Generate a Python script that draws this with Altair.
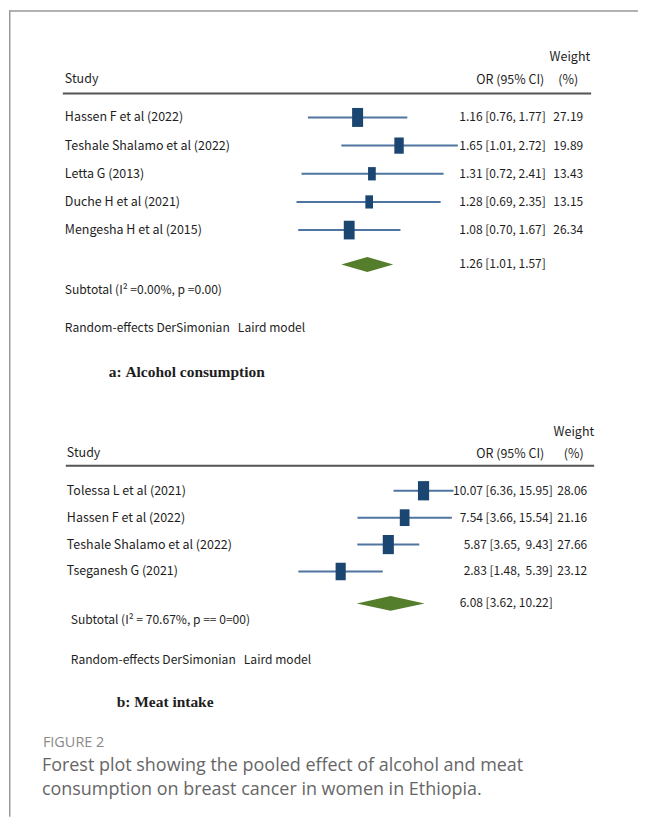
import altair as alt
import pandas as pd

# ---------------- data ----------------
alc_studies = ["Hassen F et al (2022)", "Teshale Shalamo et al (2022)", "Letta G (2013)",
               "Duche H et al (2021)", "Mengesha H et al (2015)"]
alc_or = [1.16, 1.65, 1.31, 1.28, 1.08]
alc_lo = [0.76, 1.01, 0.72, 0.69, 0.70]
alc_hi = [1.77, 2.72, 2.41, 2.35, 1.67]
alc_weight = [27.19, 19.89, 13.43, 13.15, 26.34]
alc_pooled = [1.26, 1.01, 1.57]
alc_subtotal = "Subtotal (I² =0.00%, p =0.00)"
alc_title = "a: Alcohol consumption"

meat_studies = ["Tolessa L et al (2021)", "Hassen F et al (2022)",
                "Teshale Shalamo et al (2022)", "Tseganesh G (2021)"]
meat_or = [10.07, 7.54, 5.87, 2.83]
meat_lo = [6.36, 3.66, 3.65, 1.48]
meat_hi = [15.95, 15.54, 9.43, 5.39]
meat_weight = [28.06, 21.16, 27.66, 23.12]
meat_pooled = [6.08, 3.62, 10.22]
meat_subtotal = "Subtotal (I² = 70.67%, p == 0=00)"
meat_title = "b: Meat intake"

model_note = "Random-effects DerSimonian   Laird model"
head_study = "Study"
head_or = "OR (95% CI)"
head_weight = ["Weight", "(%)"]
caption_label = "FIGURE 2"
caption_lines = ["Forest plot showing the pooled effect of alcohol and meat",
                 "consumption on breast cancer in women in Ethiopia."]

# ---------------- style ----------------
W = 631
NARROW = "Noto Sans CJK SC, Liberation Sans, sans-serif"
SERIF = "Liberation Serif, Times New Roman, serif"
CAPF = "Open Sans, sans-serif"
FS = 12.5      # study labels / headers
FS_NOTE = 12.1 # subtotal / model note
FS_NUM = 12    # numeric columns
TXT = "#1e1e1e"
LINE = "#4f74a0"
SQ = "#1b4672"
GREEN = "#547d2c"
FRAME = "#9a9a9a"
BOX = "M-0.58,-1H0.58V1H-0.58Z"


def nb(s):
    return s.replace(" ", "\u00a0")


def ci_text(e, l, h, wd):
    return nb(f"{e:.2f} [{l:.2f}, {h:{wd}.2f}]")


def label(text, x, y, align="left", font=NARROW, size=FS, weight="normal", color=TXT):
    return alt.Chart(pd.DataFrame({"t": [nb(text)]})).mark_text(
        align=align, baseline="middle", font=font, fontSize=size,
        fontWeight=weight, color=color
    ).encode(x=alt.value(x), y=alt.value(y), text="t:N")


def frame_left(h):
    return alt.Chart(pd.DataFrame({"t": [0]})).mark_rule(
        color=FRAME, strokeWidth=1.5
    ).encode(x=alt.value(0.75), y=alt.value(0), y2=alt.value(h))


def panel(studies, est, lo, hi, wt, pooled, subtotal, title, g):
    n = len(studies)
    wd = max(len(f"{v:.2f}") for v in hi + [pooled[2]])
    rows = pd.DataFrame({
        "study": [nb(s) for s in studies], "est": est, "lo": lo, "hi": hi,
        "weight": wt, "row": list(range(n)),
        "ci": [ci_text(e, l, h, wd) for e, l, h in zip(est, lo, hi)],
        "wtxt": [f"{v:.2f}" for v in wt],
    })
    prow = n - 1 + g["pool_gap"]
    pool = pd.DataFrame({"ci": [ci_text(pooled[0], pooled[1], pooled[2], wd)], "row": [prow]})
    dh = g["dh"] / g["step"]
    dia = pd.DataFrame({"x": [pooled[1], pooled[0], pooled[2]],
                        "y": [prow, prow - dh, prow],
                        "y2": [prow, prow + dh, prow]})

    xs = alt.Scale(type="log", domain=[1, 10], range=[g["x1"], g["x10"]], nice=False)
    ys = alt.Scale(domain=[0, n - 1], range=[g["y0"], g["y0"] + g["step"] * (n - 1)],
                   nice=False, zero=False)

    ci = alt.Chart(rows).mark_rule(color=LINE, strokeWidth=2).encode(
        x=alt.X("lo:Q", scale=xs, axis=None), x2="hi:Q",
        y=alt.Y("row:Q", scale=ys, axis=None))
    box = alt.Chart(rows).mark_point(shape=BOX, filled=True, opacity=1, color=SQ).encode(
        x=alt.X("est:Q", scale=xs, axis=None),
        y=alt.Y("row:Q", scale=ys, axis=None),
        size=alt.Size("weight:Q", scale=alt.Scale(domain=[0, 30], range=[0, 400]), legend=None))
    diamond = alt.Chart(dia).mark_area(color=GREEN, opacity=1).encode(
        x=alt.X("x:Q", scale=xs, axis=None),
        y=alt.Y("y:Q", scale=ys, axis=None), y2="y2:Q")

    txt = dict(baseline="middle", font=NARROW, color=TXT)
    study_t = alt.Chart(rows).mark_text(align="left", fontSize=FS, **txt).encode(
        x=alt.value(g["lab_x"]), y=alt.Y("row:Q", scale=ys, axis=None), text="study:N")
    ci_t = alt.Chart(rows).mark_text(align="right", fontSize=FS_NUM, **txt).encode(
        x=alt.value(g["ci_x"]), y=alt.Y("row:Q", scale=ys, axis=None), text="ci:N")
    w_t = alt.Chart(rows).mark_text(align="right", fontSize=FS_NUM, **txt).encode(
        x=alt.value(g["w_x"]), y=alt.Y("row:Q", scale=ys, axis=None), text="wtxt:N")
    pool_t = alt.Chart(pool).mark_text(align="right", fontSize=FS_NUM, **txt).encode(
        x=alt.value(g["ci_x"]), y=alt.Y("row:Q", scale=ys, axis=None), text="ci:N")

    hrule = alt.Chart(pd.DataFrame({"t": [0]})).mark_rule(color="#555555", strokeWidth=2).encode(
        x=alt.value(g["rule_x"][0]), x2=alt.value(g["rule_x"][1]), y=alt.value(g["rule_y"]))

    layers = [
        frame_left(g["H"]),
        label(head_study, g["lab_x"], g["head_y"]),
        label(head_or, g["orh_x"], g["head_y"] + 1, align="right"),
        label(head_weight[0], g["wh_x"], g["wh_y"], align="right"),
        label(head_weight[1], g["pct_x"], g["head_y"] + 1, align="center"),
        hrule, ci, box, diamond, study_t, ci_t, w_t, pool_t,
        label(subtotal, g["sub"][0], g["sub"][1], size=FS_NOTE),
        label(model_note, g["note"][0], g["note"][1], size=FS_NOTE),
        label(title, g["title"][0], g["title"][1], font=SERIF, size=15.5, weight="bold"),
    ]
    if g.get("top"):
        layers.insert(0, alt.Chart(pd.DataFrame({"t": [0]})).mark_rule(
            color=FRAME, strokeWidth=1.5).encode(
            x=alt.value(0), x2=alt.value(W), y=alt.value(0.75)))
    return alt.layer(*layers).properties(width=W, height=g["H"])


ga = dict(H=392, y0=107.5, step=28.25, pool_gap=1.22, dh=7.5,
          x1=332.2, x10=603.9, lab_x=56, ci_x=538.5, w_x=576,
          head_y=69, orh_x=537, wh_x=583, wh_y=47, pct_x=561,
          rule_y=83.5, rule_x=(54, 584),
          sub=(56, 281), note=(56, 319), title=(100, 363), top=True)
gb = dict(H=325, y0=90, step=27.0, pool_gap=1.185, dh=7.5,
          x1=264.6, x10=415.4, lab_x=58, ci_x=545.5, w_x=580,
          head_y=52.5, orh_x=537, wh_x=587, wh_y=31, pct_x=566.5,
          rule_y=65, rule_x=(57, 587),
          sub=(62, 220), note=(62, 260), title=(108, 302))

pa = panel(alc_studies, alc_or, alc_lo, alc_hi, alc_weight, alc_pooled,
           alc_subtotal, alc_title, ga)
pb = panel(meat_studies, meat_or, meat_lo, meat_hi, meat_weight, meat_pooled,
           meat_subtotal, meat_title, gb)

CH = 92
cap = alt.layer(
    frame_left(CH),
    label(caption_label, 34, 18, font=CAPF, size=14.5, color="#8a8a8a"),
    label(caption_lines[0], 33, 41, font=CAPF, size=18, color="#666666"),
    label(caption_lines[1], 33, 65, font=CAPF, size=18, color="#666666"),
).properties(width=W, height=CH)

chart = alt.vconcat(pa, pb, cap, spacing=0, bounds="flush").resolve_scale(
    x="independent", y="independent", size="independent"
).properties(padding=0).configure_view(stroke=None)

chart.save("out.html", embed_options={"renderer": "svg", "actions": False})
